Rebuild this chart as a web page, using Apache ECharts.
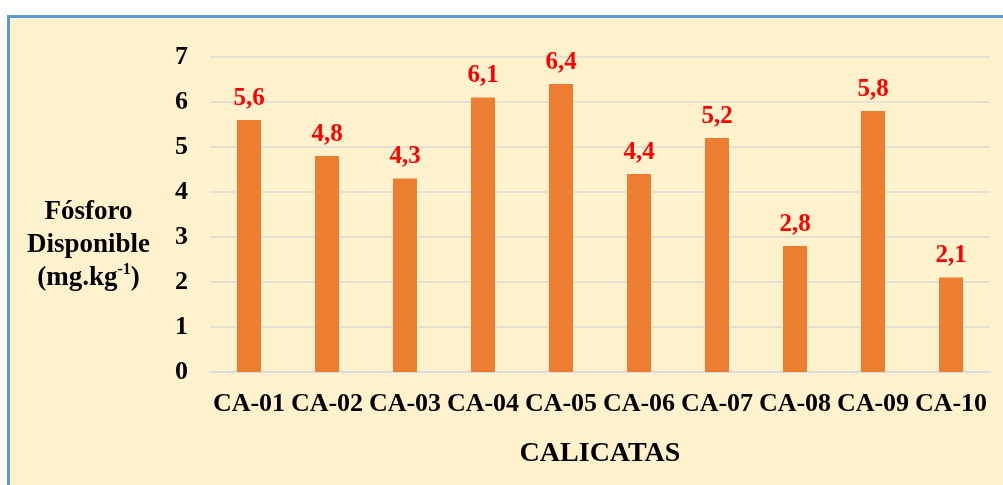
<!DOCTYPE html>
<html>
<head>
<meta charset="utf-8">
<script src="https://cdn.jsdelivr.net/npm/echarts@6/dist/echarts.min.js"></script>
<style>
  html, body { margin: 0; padding: 0; background: #fff; overflow: hidden; }
  #chart {
    position: absolute; left: 7px; top: 15px;
    width: 993px; height: 467px;
    border-left: 3px solid #5B9BD5; border-top: 3px solid #5B9BD5;
    background: #FFF2CC;
  }
</style>
</head>
<body>
<div id="chart"></div>
<script>
// data
const categories = ["CA-01", "CA-02", "CA-03", "CA-04", "CA-05", "CA-06", "CA-07", "CA-08", "CA-09", "CA-10"];
const fosforo = [5.6, 4.8, 4.3, 6.1, 6.4, 4.4, 5.2, 2.8, 5.8, 2.1];

const font = "'Liberation Serif', 'Times New Roman', serif";

const chart = echarts.init(document.getElementById("chart"));
const option = {
  backgroundColor: "transparent",
  animation: false,
  grid: {
    left: 200,
    right: 13,
    top: 39,
    bottom: 113,
    outerBoundsMode: "none",
    containLabel: false
  },
  xAxis: {
    type: "category",
    data: categories,
    name: "CALICATAS",
    nameLocation: "middle",
    nameGap: 68,
    nameTextStyle: { fontFamily: font, fontWeight: "bold", fontSize: 28, color: "#000" },
    axisLine: { lineStyle: { color: "#D9D9D9", width: 1.5 } },
    axisTick: { show: false },
    axisLabel: { fontFamily: font, fontWeight: "bold", fontSize: 26, color: "#000", margin: 19, interval: 0 }
  },
  yAxis: {
    type: "value",
    min: 0,
    max: 7,
    interval: 1,
    name: "{a|Fósforo}\n{a|Disponible}\n{a|(mg.kg}{s|-1}{a|)}",
    nameLocation: "middle",
    nameRotate: 0,
    nameGap: 60,
    nameTextStyle: {
      align: "right",
      padding: [62, 0, 0, 0],
      rich: {
        a: { fontFamily: font, fontWeight: "bold", fontSize: 27, color: "#000", lineHeight: 33, align: "center" },
        s: { fontFamily: font, fontWeight: "bold", fontSize: 16, color: "#000", verticalAlign: "top", lineHeight: 33, padding: [0, 0, 10, 0], align: "center" }
      }
    },
    axisLine: { show: false },
    axisTick: { show: false },
    splitLine: { lineStyle: { color: "#D9D9D9", width: 1.5 } },
    axisLabel: { fontFamily: font, fontWeight: "bold", fontSize: 26, color: "#000", margin: 22 }
  },
  series: [
    {
      name: "Fósforo Disponible",
      type: "bar",
      data: fosforo,
      barWidth: 24,
      itemStyle: { color: "#ED7D31" },
      label: {
        show: true,
        position: "top",
        distance: 9,
        formatter: p => String(p.value).replace(".", ","),
        fontFamily: font,
        fontWeight: "bold",
        fontSize: 25,
        color: "#FF0000"
      }
    }
  ]
};
chart.setOption(option);
</script>
</body>
</html>
